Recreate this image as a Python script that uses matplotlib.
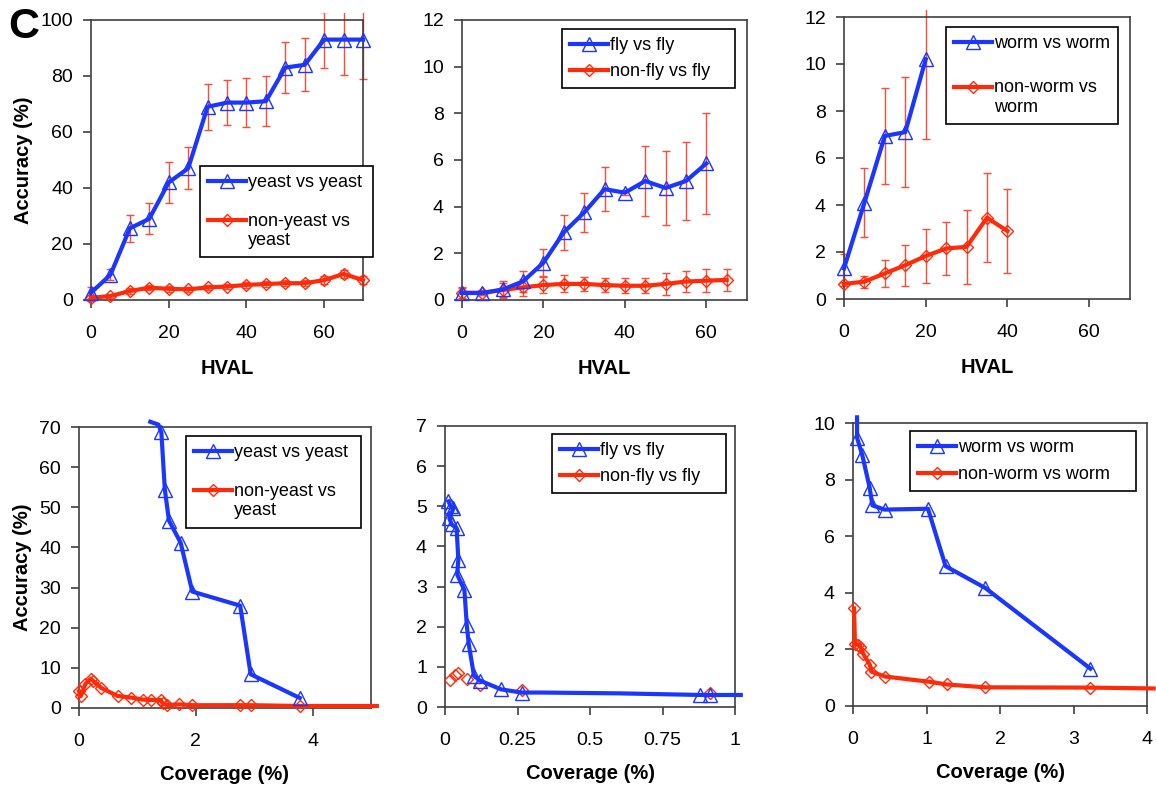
import matplotlib
matplotlib.use('Agg')
import numpy as np
import matplotlib.pyplot as plt
from matplotlib.lines import Line2D
from matplotlib.transforms import Bbox, TransformedBbox

plt.rcParams['font.family'] = ['Liberation Sans', 'DejaVu Sans']

BLUE = '#1a36ff'
RED = '#ff2a08'
ERR = '#ff4a35'

# ---------------- top row: accuracy vs HVAL ----------------
yeast_hval_x = [0, 5, 10, 15, 20, 25, 30, 35, 40, 45, 50, 55, 60, 65, 70]
yeast_acc = [2.6, 9.0, 25.6, 29.0, 42.0, 47.0, 69.0, 70.5, 70.5, 71.0, 83.0, 84.0, 93.0, 93.0, 93.0]
yeast_acc_err = [2.0, 2.0, 4.8, 5.5, 7.2, 7.5, 8.2, 8.0, 8.8, 9.0, 9.0, 9.4, 10.0, 12.5, 14.0]
nonyeast_hval_x = [0, 5, 10, 15, 20, 25, 30, 35, 40, 45, 50, 55, 60, 65, 70]
nonyeast_acc = [0.8, 1.4, 3.2, 4.4, 4.0, 3.8, 4.5, 4.8, 5.4, 5.7, 6.0, 6.0, 7.1, 9.3, 7.1]
nonyeast_acc_err = [1.0, 0.6, 1.0, 1.0, 1.0, 1.0, 1.0, 1.0, 1.0, 1.0, 1.0, 1.0, 1.5, 1.5, 1.5]

fly_hval_x = [0, 5, 10, 15, 20, 25, 30, 35, 40, 45, 50, 55, 60]
fly_acc = [0.3, 0.3, 0.45, 0.8, 1.6, 2.9, 3.75, 4.75, 4.6, 5.1, 4.8, 5.1, 5.85]
fly_acc_err = [0.2, 0.1, 0.35, 0.45, 0.57, 0.75, 0.83, 0.93, 0.12, 1.48, 1.57, 1.66, 2.17]
nonfly_hval_x = [0, 5, 10, 15, 20, 25, 30, 35, 40, 45, 50, 55, 60, 65]
nonfly_acc = [0.31, 0.31, 0.43, 0.54, 0.64, 0.69, 0.69, 0.64, 0.61, 0.61, 0.69, 0.79, 0.83, 0.86]
nonfly_acc_err = [0.25, 0.1, 0.3, 0.35, 0.35, 0.36, 0.3, 0.3, 0.33, 0.33, 0.46, 0.45, 0.48, 0.46]

worm_hval_x = [0, 5, 10, 15, 20]
worm_acc = [1.3, 4.1, 6.94, 7.1, 10.2]
worm_acc_err = [0.6, 1.46, 2.03, 2.35, 3.4]
nonworm_hval_x = [0, 5, 10, 15, 20, 25, 30, 35, 40]
nonworm_acc = [0.64, 0.74, 1.09, 1.44, 1.83, 2.15, 2.22, 3.46, 2.89]
nonworm_acc_err = [0.1, 0.26, 0.58, 0.87, 1.15, 1.13, 1.58, 1.9, 1.78]

# ---------------- bottom row: accuracy vs coverage ----------------
yeast_cov = [1.22, 1.36, 1.41, 1.47, 1.54, 1.74, 1.94, 2.76, 2.94, 3.78]
yeast_cov_acc = [71.3, 70.6, 68.7, 54.4, 46.7, 41.2, 29.0, 25.5, 8.4, 2.5]
nonyeast_cov = [0.0, 0.03, 0.11, 0.2, 0.24, 0.38, 0.66, 0.89, 1.09, 1.23, 1.4, 1.43, 1.51, 1.71,
                1.94, 2.76, 2.94, 3.78, 5.1]
nonyeast_cov_acc = [4.2, 2.9, 6.0, 7.3, 6.8, 5.0, 3.0, 2.6, 2.1, 2.0, 2.0, 1.2, 0.7, 0.9,
                    0.7, 0.7, 0.7, 0.5, 0.5]

fly_cov = [0.012, 0.02, 0.029, 0.015, 0.023, 0.04, 0.046, 0.042, 0.067, 0.075, 0.082, 0.1, 0.12,
           0.193, 0.264, 0.33, 0.6, 0.88, 0.914, 1.02]
fly_cov_acc = [5.12, 5.0, 4.95, 4.7, 4.55, 4.45, 3.67, 3.3, 2.91, 2.05, 1.56, 0.78, 0.66,
               0.44, 0.36, 0.36, 0.34, 0.3, 0.3, 0.3]
nonfly_cov = [0.017, 0.034, 0.046, 0.075, 0.12, 0.264, 0.914]
nonfly_cov_acc = [0.67, 0.8, 0.85, 0.69, 0.55, 0.42, 0.35]

worm_cov = [0.055, 0.055, 0.127, 0.227, 0.264, 0.43, 1.02, 1.26, 1.8, 3.23]
worm_cov_acc = [10.2, 9.48, 8.86, 7.71, 7.09, 6.94, 6.97, 4.94, 4.17, 1.32]
nonworm_cov = [0.014, 0.027, 0.073, 0.1, 0.14, 0.23, 0.25, 0.44, 1.03, 1.28, 1.8, 3.23, 4.09]
nonworm_cov_acc = [3.45, 2.19, 2.16, 2.1, 1.84, 1.45, 1.21, 1.04, 0.86, 0.76, 0.66, 0.65, 0.62]

W, H = 1156, 788
fig = plt.figure(figsize=(W / 100, H / 100), dpi=100)


def axes_px(left, top, right, bottom):
    return fig.add_axes([left / W, 1 - bottom / H, (right - left) / W, (bottom - top) / H])


def style(ax, xlim, ylim, xticks, yticks, xticklabels=None):
    ax.set_xlim(*xlim)
    ax.set_ylim(*ylim)
    ax.set_xticks(xticks)
    if xticklabels is not None:
        ax.set_xticklabels(xticklabels)
    ax.set_yticks(yticks)
    for sp in ax.spines.values():
        sp.set_color('#404040')
        sp.set_linewidth(1.2)
    ax.tick_params(direction='out', length=6, width=1.2, labelsize=14, color='#404040')
    ax.tick_params(axis='x', pad=12)
    ax.tick_params(axis='y', pad=7)


def legend(ax, handles, labels, x0, top, w, spacing):
    lg = ax.legend(handles, labels, loc='upper left', bbox_to_anchor=(x0, top, w, 0),
                   mode='expand', borderaxespad=0, fontsize=13, frameon=True, fancybox=False,
                   edgecolor='black', framealpha=1, labelspacing=spacing, handlelength=2.1,
                   handletextpad=0.1, borderpad=0.45, numpoints=1)
    lg.get_frame().set_linewidth(1.2)
    # align the handle of two-line entries with the first line of text
    for col in lg._legend_handle_box.get_children():
        for item in col.get_children():
            hbox, tbox = item.get_children()
            txt = tbox.get_children()[0].get_text()
            if '\n' in txt:
                for art in hbox.get_children():
                    if isinstance(art, Line2D):
                        art.set_ydata(np.asarray(art.get_ydata(), dtype=float) + 7.8)
    return lg


def clip_err(ax, cont):
    clip = TransformedBbox(Bbox([[-0.1, -0.1], [1.1, 1.025]]), ax.transAxes)
    _, caps, bars = cont.lines
    for a in list(caps) + list(bars):
        a.set_clip_on(True)
        a.set_clip_box(clip)


def hval_panel(ax, xb, yb, eb, xr, yr, er):
    c1 = ax.errorbar(xr, yr, yerr=er, fmt='none', ecolor=ERR, elinewidth=1, capsize=3, capthick=1)
    c2 = ax.errorbar(xb, yb, yerr=eb, fmt='none', ecolor=ERR, elinewidth=1, capsize=3, capthick=1)
    clip_err(ax, c1)
    clip_err(ax, c2)
    lr, = ax.plot(xr, yr, color=RED, lw=3, marker='D', ms=6.5, mfc='none', mec=RED, mew=1,
                  clip_on=False, zorder=3)
    lb, = ax.plot(xb, yb, color=BLUE, lw=3, marker='^', ms=10, mfc='none', mec=BLUE, mew=1,
                  clip_on=False, zorder=4)
    return lb, lr


# ---- top left
ax = axes_px(91, 20, 363, 300)
lb, lr = hval_panel(ax, yeast_hval_x, yeast_acc, yeast_acc_err,
                    nonyeast_hval_x, nonyeast_acc, nonyeast_acc_err)
style(ax, (0, 70), (0, 100), [0, 20, 40, 60], [0, 20, 40, 60, 80, 100])
ax.set_xlabel('HVAL', fontsize=14.5, fontweight='bold', labelpad=12)
ax.set_ylabel('Accuracy (%)', fontsize=14.5, fontweight='bold', labelpad=5)
legend(ax, [lb, lr], ['yeast vs yeast', 'non-yeast vs\nyeast'], 0.40, 0.479, 0.637, 1.2)

# ---- top middle
ax = axes_px(462, 20, 747, 300)
lb, lr = hval_panel(ax, fly_hval_x, fly_acc, fly_acc_err,
                    nonfly_hval_x, nonfly_acc, nonfly_acc_err)
style(ax, (0, 70), (0, 12), [0, 20, 40, 60], list(range(0, 13, 2)))
ax.set_xlabel('HVAL', fontsize=14.5, fontweight='bold', labelpad=12)
legend(ax, [lb, lr], ['fly vs fly', 'non-fly vs fly'], 0.351, 0.968, 0.607, 0.5)

# ---- top right
ax = axes_px(844, 17, 1130, 299)
lb, lr = hval_panel(ax, worm_hval_x, worm_acc, worm_acc_err,
                    nonworm_hval_x, nonworm_acc, nonworm_acc_err)
style(ax, (0, 70), (0, 12), [0, 20, 40, 60], list(range(0, 13, 2)))
ax.set_xlabel('HVAL', fontsize=14.5, fontweight='bold', labelpad=12)
legend(ax, [lb, lr], ['worm vs worm', 'non-worm vs\nworm'], 0.357, 0.965, 0.601, 1.5)

# ---- bottom left
ax = axes_px(79, 427, 371, 708)
ax.plot(nonyeast_cov, nonyeast_cov_acc, color=RED, lw=3, marker='D', ms=6.5, mfc='none',
        mec=RED, mew=1, markevery=list(range(len(nonyeast_cov) - 1)), clip_on=False, zorder=3)
ax.plot(yeast_cov, yeast_cov_acc, color=BLUE, lw=3, marker='^', ms=10, mfc='none',
        mec=BLUE, mew=1, markevery=list(range(2, len(yeast_cov))), clip_on=False, zorder=4)
style(ax, (0, 5), (0, 70), [0, 2, 4], list(range(0, 71, 10)))
ax.set_xlabel('Coverage (%)', fontsize=14.5, fontweight='bold', labelpad=11)
ax.set_ylabel('Accuracy (%)', fontsize=14.5, fontweight='bold', labelpad=5)
hb = Line2D([], [], color=BLUE, lw=3, marker='^', ms=10, mfc='none', mec=BLUE, mew=1)
hr = Line2D([], [], color=RED, lw=3, marker='D', ms=6.5, mfc='none', mec=RED, mew=1)
legend(ax, [hb, hr], ['yeast vs yeast', 'non-yeast vs\nyeast'], 0.366, 0.968, 0.600, 1.2)

# ---- bottom middle
ax = axes_px(445, 426, 735, 707)
ax.plot(nonfly_cov, nonfly_cov_acc, linestyle='none', marker='D', ms=6.5, mfc='none',
        mec=RED, mew=1, clip_on=False, zorder=3)
mk = [0, 1, 2, 3, 4, 5, 6, 7, 8, 9, 10, 11, 12, 13, 14, 17, 18]
ax.plot(fly_cov, fly_cov_acc, color=BLUE, lw=3, marker='^', ms=10, mfc='none', mec=BLUE,
        mew=1, markevery=mk, clip_on=False, zorder=4)
style(ax, (0, 1), (0, 7), [0, 0.25, 0.5, 0.75, 1], list(range(0, 8)),
      ['0', '0.25', '0.5', '0.75', '1'])
ax.set_xlabel('Coverage (%)', fontsize=14.5, fontweight='bold', labelpad=11)
legend(ax, [hb, hr], ['fly vs fly', 'non-fly vs fly'], 0.369, 0.972, 0.600, 0.5)

# ---- bottom right
ax = axes_px(853, 423, 1147, 706)
ax.plot(nonworm_cov, nonworm_cov_acc, color=RED, lw=3, marker='D', ms=6.5, mfc='none',
        mec=RED, mew=1, markevery=list(range(len(nonworm_cov) - 1)), clip_on=False, zorder=3)
ax.plot(worm_cov, worm_cov_acc, color=BLUE, lw=3, marker='^', ms=10, mfc='none', mec=BLUE,
        mew=1, markevery=list(range(1, len(worm_cov))), clip_on=False, zorder=4)
style(ax, (0, 4), (0, 10), [0, 1, 2, 3, 4], [0, 2, 4, 6, 8, 10])
ax.set_xlabel('Coverage (%)', fontsize=14.5, fontweight='bold', labelpad=11)
legend(ax, [hb, hr], ['worm vs worm', 'non-worm vs worm'], 0.194, 0.972, 0.769, 0.55)

fig.text(8 / W, 1 - 38 / H, 'C', fontsize=31, fontweight='bold', va='baseline', ha='left')

fig.savefig('out.png', dpi=100)
